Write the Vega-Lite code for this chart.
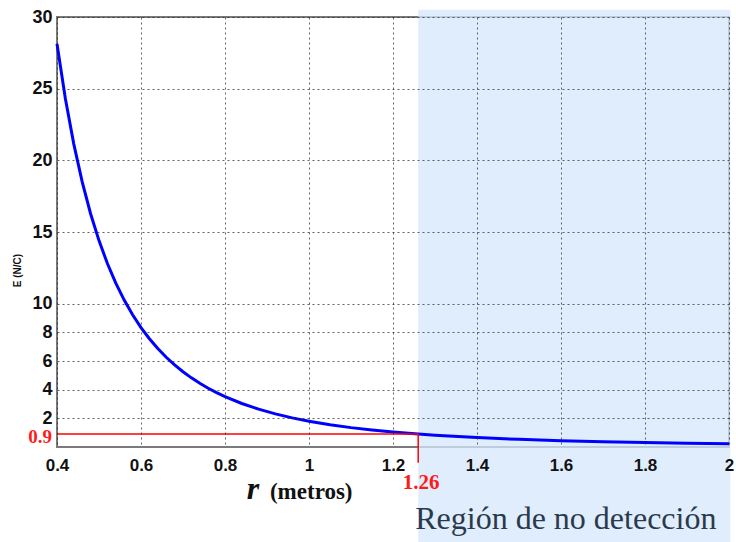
{
  "$schema": "https://vega.github.io/schema/vega-lite/v6.json",
  "width": 672,
  "height": 430,
  "autosize": {"type": "none"},
  "padding": {"left": 57, "top": 17, "right": 7, "bottom": 95},
  "background": "white",
  "config": {
    "view": {"stroke": "#7a7a7a", "strokeWidth": 2},
    "font": "Liberation Sans"
  },
  "datasets": {
    "curve": [
      {"r": 0.40, "E": 28.125}, {"r": 0.42, "E": 24.295}, {"r": 0.44, "E": 21.131}, {"r": 0.46, "E": 18.493},
      {"r": 0.48, "E": 16.276}, {"r": 0.50, "E": 14.4}, {"r": 0.52, "E": 12.802}, {"r": 0.54, "E": 11.431},
      {"r": 0.56, "E": 10.25}, {"r": 0.58, "E": 9.225}, {"r": 0.60, "E": 8.333}, {"r": 0.62, "E": 7.553},
      {"r": 0.64, "E": 6.866}, {"r": 0.66, "E": 6.261}, {"r": 0.68, "E": 5.725}, {"r": 0.70, "E": 5.248},
      {"r": 0.72, "E": 4.823}, {"r": 0.74, "E": 4.442}, {"r": 0.76, "E": 4.1}, {"r": 0.78, "E": 3.793},
      {"r": 0.80, "E": 3.516}, {"r": 0.84, "E": 3.037}, {"r": 0.88, "E": 2.641}, {"r": 0.92, "E": 2.312},
      {"r": 0.96, "E": 2.034}, {"r": 1.00, "E": 1.8}, {"r": 1.05, "E": 1.555}, {"r": 1.10, "E": 1.352},
      {"r": 1.15, "E": 1.184}, {"r": 1.20, "E": 1.042}, {"r": 1.26, "E": 0.9}, {"r": 1.30, "E": 0.819},
      {"r": 1.40, "E": 0.656}, {"r": 1.50, "E": 0.533}, {"r": 1.60, "E": 0.439}, {"r": 1.70, "E": 0.366},
      {"r": 1.80, "E": 0.309}, {"r": 1.90, "E": 0.262}, {"r": 2.00, "E": 0.225}
    ],
    "region": [{"x": 1.26, "x2": 2.003, "y": 30.5, "y2": -6.8}],
    "redlines": [
      {"x": 0.4, "x2": 1.26, "y": 0.9, "y2": 0.9},
      {"x": 1.26, "x2": 1.26, "y": 0.9, "y2": -1.1}
    ]
  },
  "layer": [
    {
      "data": {"name": "region"},
      "mark": {"type": "rect", "fill": "#d6e7fc", "opacity": 0.75, "clip": false},
      "encoding": {
        "x": {"field": "x", "type": "quantitative",
          "scale": {"domain": [0.4, 2], "nice": false, "zero": false},
          "axis": {
            "values": [0.4, 0.6, 0.8, 1, 1.2, 1.4, 1.6, 1.8, 2],
            "format": "~g",
            "title": null,
            "zindex": 1,
            "domain": false,
            "ticks": false,
            "labelFont": "Liberation Sans",
            "labelFontSize": 17,
            "labelFontWeight": "bold",
            "labelColor": "#111",
            "labelPadding": 10,
            "labelFlush": false,
            "gridColor": "#222",
            "gridDash": [2, 3],
            "gridWidth": 1,
            "gridOpacity": 0.7
          }
        },
        "x2": {"field": "x2"},
        "y": {"field": "y", "type": "quantitative",
          "scale": {"domain": [0, 30], "nice": false, "zero": false},
          "axis": {
            "values": [2, 4, 6, 8, 10, 15, 20, 25, 30],
            "title": "E (N/C)",
            "zindex": 1,
            "titleFont": "Liberation Sans",
            "titleFontSize": 10,
            "titleFontWeight": "bold",
            "titleColor": "#111",
            "titleX": -40,
            "titleY": 253,
            "titleAngle": -90,
            "titleAlign": "center",
            "titleBaseline": "middle",
            "domain": false,
            "ticks": false,
            "labelFont": "Liberation Sans",
            "labelFontSize": 18,
            "labelFontWeight": "bold",
            "labelColor": "#111",
            "labelPadding": 5,
            "gridColor": "#222",
            "gridDash": [2, 3],
            "gridWidth": 1,
            "gridOpacity": 0.7
          }
        },
        "y2": {"field": "y2"}
      }
    },
    {
      "data": {"name": "curve"},
      "mark": {"type": "line", "color": "#0000ff", "strokeWidth": 3},
      "encoding": {
        "x": {"field": "r", "type": "quantitative"},
        "y": {"field": "E", "type": "quantitative"}
      }
    },
    {
      "data": {"name": "redlines"},
      "mark": {"type": "rule", "color": "#ff0000", "strokeWidth": 1.5, "clip": false},
      "encoding": {
        "x": {"field": "x", "type": "quantitative"},
        "x2": {"field": "x2"},
        "y": {"field": "y", "type": "quantitative"},
        "y2": {"field": "y2"}
      }
    },
    {
      "data": {"values": [{"x": 0.4, "y": 0.9, "t": "0.9"}]},
      "mark": {"type": "text", "color": "#ff1a1a", "font": "Liberation Serif", "fontSize": 19, "fontWeight": "bold", "align": "right", "baseline": "middle", "dx": -5, "dy": 3, "clip": false},
      "encoding": {
        "x": {"field": "x", "type": "quantitative"},
        "y": {"field": "y", "type": "quantitative"},
        "text": {"field": "t"}
      }
    },
    {
      "data": {"values": [{"x": 1.26, "y": 0, "t": "1.26"}]},
      "mark": {"type": "text", "color": "#ff1a1a", "font": "Liberation Serif", "fontSize": 21, "fontWeight": "bold", "align": "center", "baseline": "middle", "dx": 3, "dy": 36, "clip": false},
      "encoding": {
        "x": {"field": "x", "type": "quantitative"},
        "y": {"field": "y", "type": "quantitative"},
        "text": {"field": "t"}
      }
    },
    {
      "data": {"values": [{"x": 1.26, "y": 0, "t": "Región de no detección"}]},
      "mark": {"type": "text", "color": "#2b3a4a", "font": "Liberation Serif", "fontSize": 32, "align": "left", "baseline": "alphabetic", "dx": -3, "dy": 82, "clip": false},
      "encoding": {
        "x": {"field": "x", "type": "quantitative"},
        "y": {"field": "y", "type": "quantitative"},
        "text": {"field": "t"}
      }
    },
    {
      "data": {"values": [{"x": 0.852, "y": 0, "t": "r"}]},
      "mark": {"type": "text", "color": "#111", "font": "Liberation Serif", "fontSize": 32, "fontWeight": "bold", "fontStyle": "italic", "align": "left", "baseline": "alphabetic", "dy": 52, "clip": false},
      "encoding": {
        "x": {"field": "x", "type": "quantitative"},
        "y": {"field": "y", "type": "quantitative"},
        "text": {"field": "t"}
      }
    },
    {
      "data": {"values": [{"x": 0.907, "y": 0, "t": "(metros)"}]},
      "mark": {"type": "text", "color": "#111", "font": "Liberation Serif", "fontSize": 23, "fontWeight": "bold", "align": "left", "baseline": "alphabetic", "dy": 52, "clip": false},
      "encoding": {
        "x": {"field": "x", "type": "quantitative"},
        "y": {"field": "y", "type": "quantitative"},
        "text": {"field": "t"}
      }
    }
  ]
}
